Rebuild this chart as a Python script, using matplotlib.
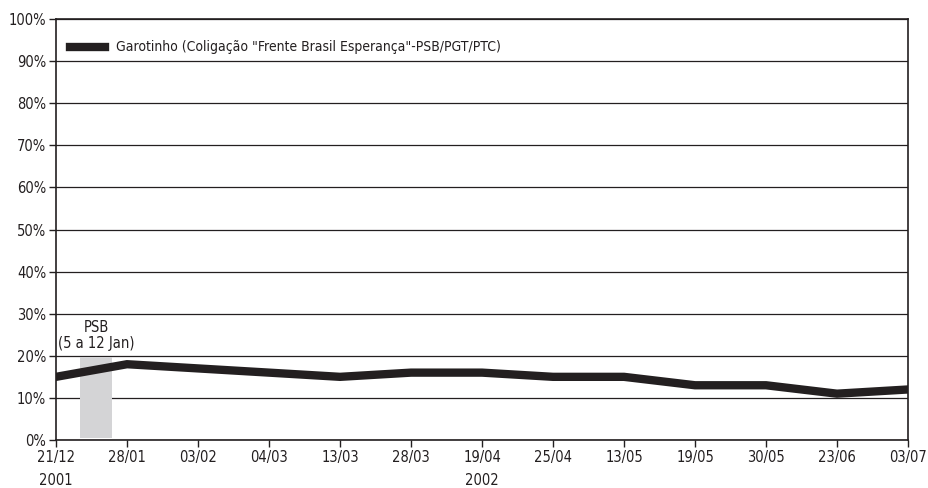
import numpy as np
import matplotlib.pyplot as plt

plt.rcParams['font.family'] = ['DejaVu Sans']
plt.rcParams['font.stretch'] = 'condensed'

dates = ['21/12', '28/01', '03/02', '04/03', '13/03', '28/03', '19/04',
         '25/04', '13/05', '19/05', '30/05', '23/06', '03/07']
garotinho = [15, 18, 17, 16, 15, 16, 16, 15, 15, 13, 13, 11, 12]
label = 'Garotinho (Coligação "Frente Brasil Esperança"-PSB/PGT/PTC)'
ink = '#231f20'
fs = 10.5

fig = plt.figure(figsize=(9.29, 4.88), dpi=100)
ax = fig.add_axes([0.0603, 0.0984, 0.9171, 0.8626])

x = np.arange(len(dates))
# PSB campaign window (5 to 12 Jan)
ax.bar(0.565, 19.3, width=0.45, bottom=0.4, color='#d4d4d6', zorder=1)
ax.text(0.565, 21.2, 'PSB\n(5 a 12 Jan)', ha='center', va='bottom',
        fontsize=fs, color=ink, linespacing=1.05)

ax.plot(x, garotinho, color=ink, lw=6, solid_joinstyle='miter',
        label=label, zorder=3)

ax.set_xlim(0, len(dates) - 1)
ax.set_ylim(0, 100)
ax.set_xticks(x)
ax.set_xticklabels(dates, fontsize=fs, color=ink)
ax.set_yticks(np.arange(0, 101, 10))
ax.set_yticklabels([f'{v}%' for v in range(0, 101, 10)], fontsize=fs, color=ink)
ax.yaxis.grid(True, color=ink, lw=0.9)
ax.set_axisbelow(True)
ax.tick_params(length=5, width=1, color=ink, pad=2)
for s in ax.spines.values():
    s.set_color(ink)
    s.set_linewidth(1.2)

ax.text(0, -9.7, '2001', ha='center', va='center', fontsize=fs, color=ink)
ax.text(6, -9.7, '2002', ha='center', va='center', fontsize=fs, color=ink)

leg = ax.legend(loc='upper left', frameon=False, fontsize=10,
                handlelength=2.5, handletextpad=0.8, borderaxespad=0.6,
                bbox_to_anchor=(0, 0.982))
for t in leg.get_texts():
    t.set_color(ink)

fig.savefig('out.png', dpi=100)
